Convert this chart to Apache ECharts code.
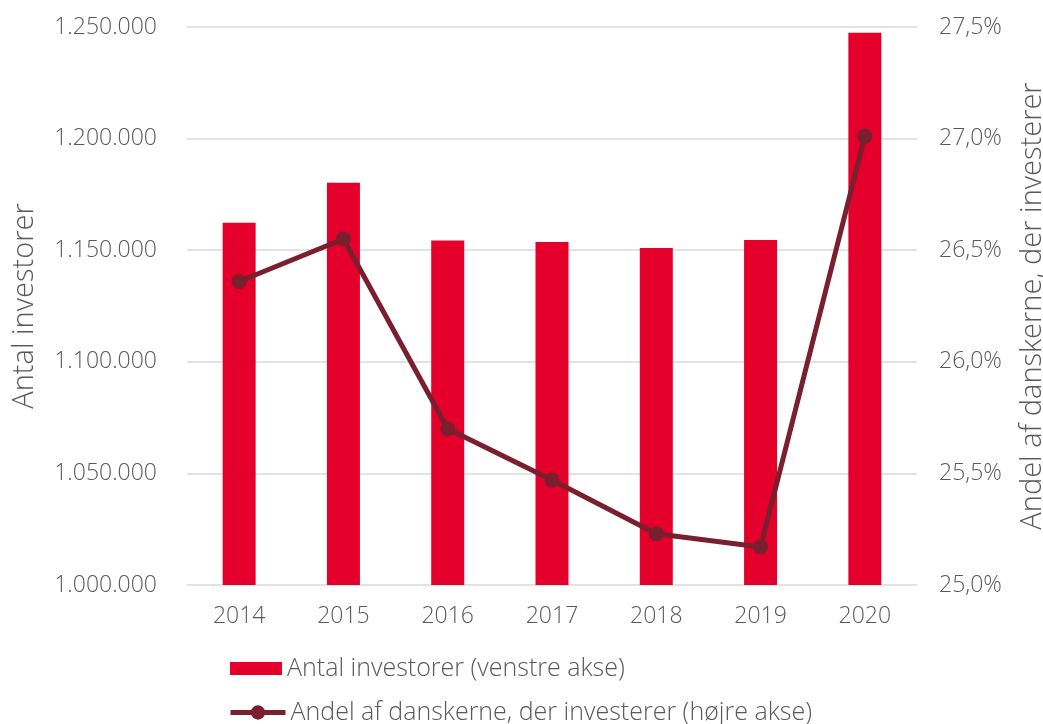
<!DOCTYPE html>
<html>
<head>
<meta charset="utf-8">
<script src="https://cdn.jsdelivr.net/npm/echarts@6/dist/echarts.min.js"></script>
<style>
  html, body { margin: 0; padding: 0; background: #fff; }
  #chart { width: 1043px; height: 724px; }
</style>
</head>
<body>
<div id="chart"></div>
<script>
// Years on the category axis
const years = ['2014', '2015', '2016', '2017', '2018', '2019', '2020'];
// Number of investors (left axis)
const investors = [1162300, 1180200, 1154300, 1153700, 1151000, 1154600, 1247400];
// Share of Danes who invest, in percent (right axis)
const shareInvesting = [26.36, 26.55, 25.70, 25.47, 25.23, 25.17, 27.01];

const barName = 'Antal investorer (venstre akse)';
const lineName = 'Andel af danskerne, der investerer (højre akse)';

const textColor = '#595959';
const fontFamily = '"Open Sans", Lato, sans-serif';
const barColor = '#e4002b';
const lineColor = '#7a1f2e';

function danishThousands(v) {
  return String(Math.round(v)).replace(/\B(?=(\d{3})+(?!\d))/g, '.');
}
function danishPercent(v) {
  return v.toFixed(1).replace('.', ',') + '%';
}

const legendText = { fontSize: 25, color: textColor, fontFamily: fontFamily, fontWeight: 300 };

const chart = echarts.init(document.getElementById('chart'));
chart.setOption({
  animation: false,
  textStyle: { fontFamily: fontFamily, color: textColor, fontWeight: 300 },
  grid: { left: 187, right: 126, top: 27, bottom: 139, containLabel: false, outerBoundsMode: 'none' },
  legend: [
    {
      left: 230,
      top: 656,
      padding: 0,
      itemWidth: 52,
      itemHeight: 13,
      textStyle: legendText,
      data: [{ name: barName, icon: 'rect' }]
    },
    {
      left: 228,
      top: 700,
      padding: 0,
      itemWidth: 55,
      itemHeight: 18,
      lineStyle: { width: 5 },
      textStyle: legendText,
      data: [{ name: lineName }]
    }
  ],
  xAxis: {
    type: 'category',
    data: years,
    axisLine: { show: false },
    axisTick: { show: false },
    axisLabel: { fontSize: 23, color: textColor, margin: 20 }
  },
  yAxis: [
    {
      type: 'value',
      min: 1000000,
      max: 1250000,
      interval: 50000,
      name: 'Antal investorer',
      nameLocation: 'middle',
      nameGap: 148,
      nameRotate: 90,
      nameTextStyle: { fontSize: 29, color: textColor },
      axisLabel: { fontSize: 23, color: textColor, margin: 30, formatter: danishThousands },
      splitLine: { lineStyle: { color: '#d9d9d9', width: 1.5 } },
      axisLine: { show: false },
      axisTick: { show: false }
    },
    {
      type: 'value',
      min: 25,
      max: 27.5,
      interval: 0.5,
      name: 'Andel af danskerne, der investerer',
      nameLocation: 'middle',
      nameGap: 101,
      nameRotate: 90,
      nameTextStyle: { fontSize: 29, color: textColor },
      axisLabel: { fontSize: 23, color: textColor, margin: 22, formatter: danishPercent },
      splitLine: { show: false },
      axisLine: { show: false },
      axisTick: { show: false }
    }
  ],
  series: [
    {
      name: barName,
      type: 'bar',
      yAxisIndex: 0,
      data: investors,
      barWidth: 33,
      itemStyle: { color: barColor }
    },
    {
      name: lineName,
      type: 'line',
      yAxisIndex: 1,
      data: shareInvesting,
      symbol: 'circle',
      symbolSize: 15,
      lineStyle: { color: lineColor, width: 5 },
      itemStyle: { color: lineColor }
    }
  ]
});
</script>
</body>
</html>
